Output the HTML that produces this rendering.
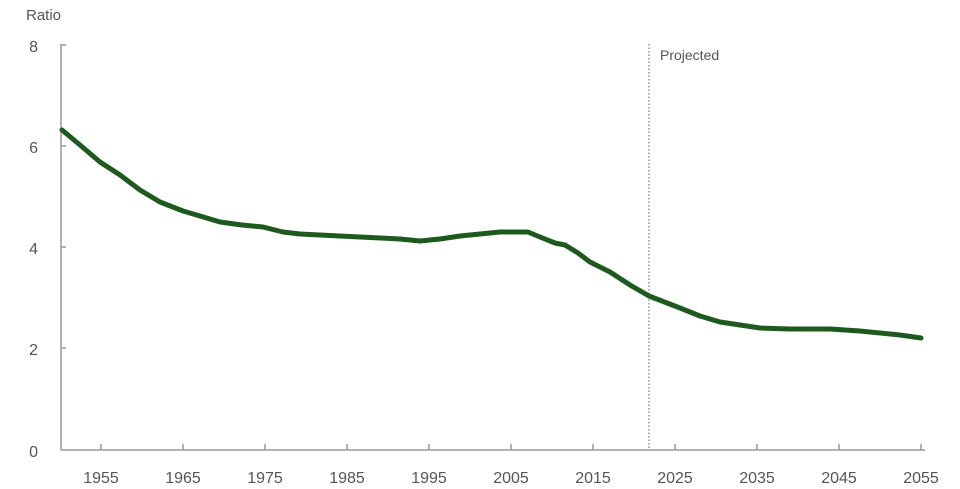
<!DOCTYPE html>
<html><head><style>body{margin:0;background:#fff}svg{display:block}text{font-family:"Liberation Sans",sans-serif;fill:#555}</style></head>
<body>
<svg width="960" height="489" viewBox="0 0 960 489">
<text x="26" y="20" font-size="15">Ratio</text>
<g font-size="16" text-anchor="end">
<text x="38" y="52">8</text><text x="38" y="153">6</text><text x="38" y="254">4</text><text x="38" y="355">2</text><text x="38" y="457">0</text>
</g>
<g stroke="#999" stroke-width="1.5" fill="none">
<line x1="61" y1="44" x2="61" y2="450"/>
<line x1="61" y1="450" x2="925" y2="450"/>
<line x1="61" y1="45" x2="66" y2="45"/><line x1="61" y1="146" x2="66" y2="146"/><line x1="61" y1="247" x2="66" y2="247"/><line x1="61" y1="348" x2="66" y2="348"/>
<line x1="101" y1="444" x2="101" y2="450"/><line x1="183" y1="444" x2="183" y2="450"/><line x1="265" y1="444" x2="265" y2="450"/><line x1="347" y1="444" x2="347" y2="450"/><line x1="429" y1="444" x2="429" y2="450"/><line x1="511" y1="444" x2="511" y2="450"/><line x1="593" y1="444" x2="593" y2="450"/><line x1="675" y1="444" x2="675" y2="450"/><line x1="757" y1="444" x2="757" y2="450"/><line x1="839" y1="444" x2="839" y2="450"/><line x1="921" y1="444" x2="921" y2="450"/>
</g>
<line x1="649" y1="44" x2="649" y2="450" stroke="#777" stroke-width="1.2" stroke-dasharray="1.5,2"/>
<text x="660" y="60" font-size="14">Projected</text>
<g font-size="16" text-anchor="middle">
<text x="101" y="483">1955</text><text x="183" y="483">1965</text><text x="265" y="483">1975</text><text x="347" y="483">1985</text><text x="429" y="483">1995</text><text x="511" y="483">2005</text><text x="593" y="483">2015</text><text x="675" y="483">2025</text><text x="757" y="483">2035</text><text x="839" y="483">2045</text><text x="921" y="483">2055</text>
</g>
<polyline fill="none" stroke="#1e5a1e" stroke-width="5" stroke-linejoin="round" stroke-linecap="round"
points="62,130 80,145 100,162 120,175 140,190 160,202 183,211 200,216 220,222 242,225 263,227 283,232 300,234 340,236 380,238 400,239 420,241 440,239 460,236 480,234 500,232 528,232 540,237 555,243 565,245 578,253 590,262 610,272 630,285 649,296 680,308 700,316 720,322 740,325 760,328 790,329 830,329 860,331 900,335 921,338"/>
</svg>
</body></html>
